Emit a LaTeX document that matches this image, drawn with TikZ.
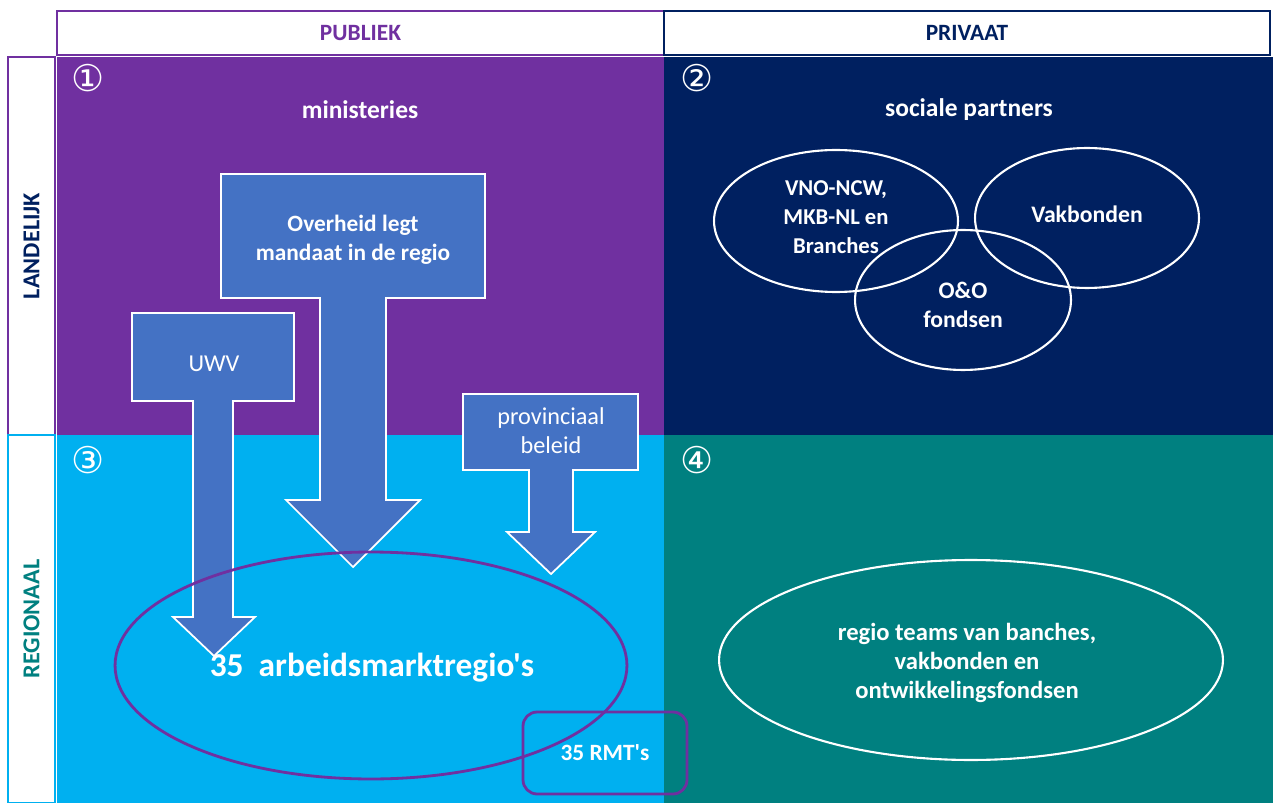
\documentclass[tikz,border=0pt]{standalone}
\usepackage{fontspec}
\setmainfont{Carlito}[Ligatures=TeXOff]
\newfontfamily\symfont{DejaVu Sans}
\usetikzlibrary{shapes.geometric}
\definecolor{paars}{HTML}{7030A0}
\definecolor{navy}{HTML}{002060}
\definecolor{cyaan}{HTML}{00B0F0}
\definecolor{teal}{HTML}{008080}
\definecolor{pijl}{HTML}{4472C4}
\tikzset{
  header/.style={draw, line width=1.4pt, fill=white, inner sep=0pt, font=\bfseries\fontsize{13.3}{15}\selectfont},
  zijbalk/.style={draw, line width=1.4pt, fill=white, inner sep=0pt, rotate=90, font=\bfseries\fontsize{13.8}{15}\selectfont},
  nummer/.style={text=white, inner sep=0pt, font=\symfont\fontsize{21}{21}\selectfont},
  titel/.style={text=white, font=\bfseries\fontsize{14.5}{17}\selectfont},
  blokpijl/.style={fill=pijl, draw=white, line width=1pt, line join=miter},
  pijltekst/.style={text=white, align=center, font=\fontsize{13.8}{16.5}\selectfont},
  venn/.style={ellipse, draw=white, line width=1.2pt, inner sep=0pt},
  venntekst/.style={text=white, align=center, font=\bfseries\fontsize{13.5}{16.5}\selectfont}
}
\begin{document}
\begin{tikzpicture}[x=0.02cm, y=-0.02cm]
  \useasboundingbox (0,0) rectangle (1273,803);
  % kwadranten
  \fill[paars] (57,57) rectangle (664,435);
  \fill[navy] (664,57) rectangle (1273,435);
  \fill[cyaan] (57,435) rectangle (664,803);
  \fill[teal] (664,435) rectangle (1273,803);

  % koppen
  \node[header, draw=paars, text=paars, minimum width=12.14cm, minimum height=0.88cm] (publiek) at (360.5,33) {PUBLIEK};
  \node[header, draw=navy, text=navy, minimum width=12.12cm, minimum height=0.88cm] (privaat) at (967,33) {PRIVAAT};
  \node[zijbalk, draw=paars, text=navy, minimum width=7.56cm, minimum height=0.94cm] (landelijk) at (31.5,246) {LANDELIJK};
  \node[zijbalk, draw=cyaan, text=teal, minimum width=7.36cm, minimum height=0.94cm] (regionaal) at (31.5,619) {REGIONAAL};

  \node[nummer] (n1) at (88,78) {①};
  \node[nummer] (n2) at (697,78) {②};
  \node[nummer] (n3) at (88,460) {③};
  \node[nummer] (n4) at (697,460) {④};

  \node[titel] (ministeries) at (360,110) {ministeries};
  \node[titel] (partners) at (969,110) {sociale partners};

  % blokpijlen
  \draw[blokpijl] (221,174) -- (485,174) -- (485,298) -- (386,298) -- (386,500) -- (420,500)
    -- (353,567) -- (286,500) -- (320,500) -- (320,298) -- (221,298) -- cycle;
  \node[pijltekst, font=\bfseries\fontsize{13.3}{16.5}\selectfont] (mandaat) at (353,240) {Overheid legt\\mandaat in de regio};
  \draw[blokpijl] (132,313) -- (294,313) -- (294,401) -- (233,401) -- (233,617) -- (255,617)
    -- (214,656) -- (173,617) -- (193,617) -- (193,401) -- (132,401) -- cycle;
  \node[pijltekst] (uwv) at (214,364) {UWV};
  \draw[blokpijl] (463,394) -- (638,394) -- (638,470) -- (573,470) -- (573,532) -- (595,532)
    -- (551,574) -- (507,532) -- (529,532) -- (529,470) -- (463,470) -- cycle;
  \node[pijltekst] (provincie) at (551,431) {provinciaal\\beleid};

  % regio
  \node[ellipse, draw=paars, line width=1.6pt, inner sep=0pt, minimum width=10.24cm, minimum height=4.54cm] (amr) at (371,665.5) {};
  \node[text=white, font=\bfseries\fontsize{19}{22}\selectfont] (amrtekst) at (372,668) {35~~arbeidsmarktregio's};
  \node[draw=paars, line width=1.6pt, rounded corners=8pt, minimum width=3.28cm, minimum height=1.64cm, text=white,
    font=\bfseries\fontsize{13.3}{15}\selectfont] (rmt) at (605,753) {35 RMT's};

  % sociale partners
  \node[venn, minimum width=4.88cm, minimum height=2.84cm] (vno) at (836,221) {};
  \node[venntekst, font=\bfseries\fontsize{12.9}{16.5}\selectfont] (vnotekst) at (836,217) {VNO-NCW,\\MKB-NL en\\Branches};
  \node[venn, minimum width=4.48cm, minimum height=2.8cm] (vakbonden) at (1087,218) {};
  \node[venntekst] (vakbondentekst) at (1087,214) {Vakbonden};
  \node[venn, minimum width=4.32cm, minimum height=2.8cm] (oeno) at (963,300) {};
  \node[venntekst] (oenotekst) at (963,305) {O\&O\\fondsen};

  \node[venn, minimum width=10.08cm, minimum height=4cm] (teams) at (971,660) {};
  \node[venntekst, font=\bfseries\fontsize{14}{16.5}\selectfont] (teamstekst) at (967,663) {regio teams van banches,\\vakbonden en\\ontwikkelingsfondsen};
\end{tikzpicture}
\end{document}
